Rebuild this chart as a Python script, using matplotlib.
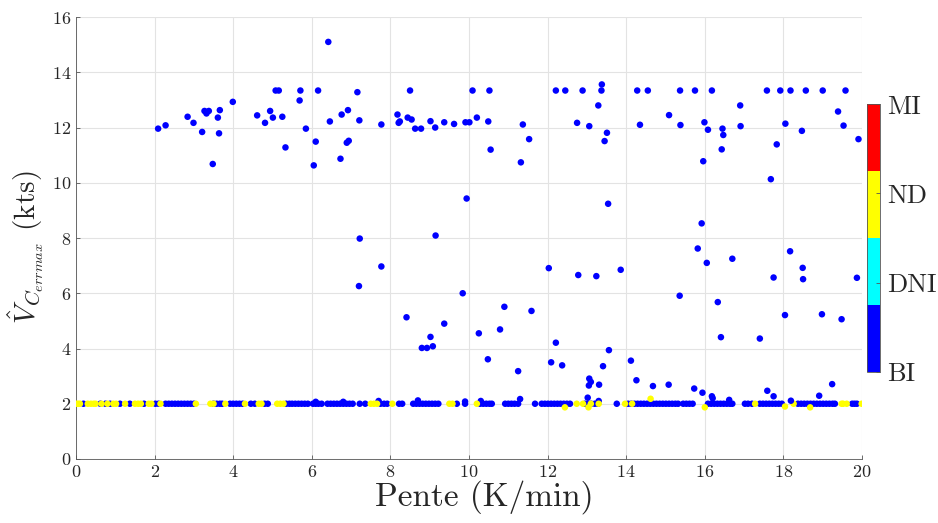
import numpy as np
import matplotlib
matplotlib.use("Agg")
import matplotlib.pyplot as plt
from matplotlib.colors import ListedColormap, Normalize

plt.rcParams['font.family'] = ['cmr10', 'DejaVu Serif']
plt.rcParams['mathtext.fontset'] = 'cm'
plt.rcParams['axes.formatter.use_mathtext'] = True
plt.rcParams['axes.unicode_minus'] = False

# ---- data: class BI (blue), points away from the 2-kt floor ----
bi_x = [2.09, 2.28, 2.84, 2.99, 3.21, 3.27, 3.32, 3.38, 3.48, 3.61, 3.64, 3.66, 3.99, 4.61, 4.81, 4.94,
        5.01, 5.08, 5.16, 5.25, 5.33, 5.69, 5.71, 5.85, 6.05, 6.10, 6.16, 6.42, 6.46, 6.73, 6.76, 6.89,
        6.94, 6.92, 7.16, 7.21, 7.77, 8.18, 8.21, 8.24, 8.44, 8.54, 8.50, 8.63, 8.78, 9.02, 9.14, 9.37,
        9.62, 9.91, 10.01, 10.09, 10.20, 10.49, 10.52, 10.55, 11.32, 11.37, 11.53, 12.21, 12.45, 12.75,
        12.89, 13.06, 13.29, 13.37, 13.38, 13.45, 13.51, 14.28, 14.55, 14.35, 15.09, 15.37, 15.38, 15.75,
        15.96, 15.99, 16.08, 16.18, 16.43, 16.45, 16.47, 16.90, 16.91, 17.58, 17.68, 17.83, 17.92, 18.18,
        18.05, 18.47, 18.57, 19.00, 19.39, 19.53, 19.58, 19.91,
        7.22, 7.20, 7.77, 9.15, 9.94, 9.84, 8.41, 9.37, 9.02, 8.80, 8.93, 9.08, 10.25, 10.48, 10.79, 10.90,
        11.25, 11.59, 12.03, 12.21, 12.09, 12.37, 12.78, 13.24, 13.06, 13.10, 13.05, 13.31, 13.54, 13.86,
        13.56, 13.41, 14.12, 14.26, 14.68, 15.08, 15.36, 15.73, 15.92, 15.82, 16.05, 16.33, 16.41, 16.70,
        17.40, 17.75, 18.17, 18.04, 18.49, 18.50, 18.98, 19.48, 19.24, 19.87, 17.59, 15.94, 16.18, 16.62,
        17.75, 18.19, 18.91, 13.02, 11.30]
bi_y = [11.96, 12.08, 12.39, 12.17, 11.84, 12.60, 12.51, 12.60, 10.68, 12.36, 11.79, 12.63, 12.93, 12.44,
        12.17, 12.60, 12.36, 13.34, 13.34, 12.39, 11.28, 12.98, 13.34, 11.96, 10.63, 11.49, 13.34, 15.10,
        12.22, 10.87, 12.47, 11.45, 11.52, 12.63, 13.28, 12.26, 12.11, 12.47, 12.17, 12.22, 12.36, 12.29,
        13.34, 11.96, 11.96, 12.23, 12.00, 12.19, 12.13, 12.19, 12.19, 13.34, 12.36, 12.22, 13.34, 11.20,
        10.74, 12.11, 11.58, 13.34, 13.34, 12.17, 13.34, 12.05, 12.80, 13.34, 13.56, 11.51, 11.81, 13.34,
        13.34, 12.10, 12.45, 13.34, 12.09, 13.34, 10.78, 12.19, 11.92, 13.34, 11.21, 11.96, 11.73, 12.80,
        12.05, 13.34, 10.13, 11.39, 13.34, 13.34, 12.14, 11.88, 13.34, 13.34, 12.58, 12.07, 13.34, 11.58,
        7.98, 6.26, 6.97, 8.09, 9.43, 6.00, 5.13, 4.90, 4.42, 4.02, 4.02, 4.08, 4.55, 3.61, 4.69, 5.51,
        3.18, 5.36, 6.91, 4.21, 3.50, 3.39, 6.66, 6.62, 2.91, 2.79, 2.66, 2.69, 9.24, 6.85,
        3.94, 3.36, 3.56, 2.85, 2.64, 2.69, 5.91, 2.55, 8.53, 7.62, 7.10, 5.68, 4.41, 7.25,
        4.36, 6.57, 7.52, 5.21, 6.92, 6.51, 5.24, 5.06, 2.71, 6.56, 2.47, 2.40, 2.27, 2.14,
        2.27, 2.11, 2.29, 2.22, 2.17]

# ---- class BI (blue) on the 2-kt floor ----
bi_floor_x = [0.19, 0.62, 0.75, 0.87, 1.12, 1.37, 1.73, 2.02, 2.10, 2.28, 2.36, 2.44, 2.52, 2.60, 2.68,
              2.76, 2.84, 2.92, 3.00, 3.50, 3.58, 3.66, 3.72, 3.92, 4.00, 4.08, 4.16, 4.24, 4.45, 4.55,
              4.80, 4.88, 5.35, 5.43, 5.50, 5.58, 5.66, 5.74, 5.82, 5.90, 6.03, 6.10, 6.17, 6.25, 6.40,
              6.48, 6.56, 6.64, 6.72, 6.80, 6.88, 6.96, 7.04, 7.22, 7.36, 7.75, 7.84, 7.92, 8.22, 8.30,
              8.58, 8.66, 8.74, 8.82, 8.90, 8.98, 9.06, 9.14, 9.22, 9.69, 9.90, 10.28, 10.36, 10.44, 10.52,
              10.58, 10.92, 11.00, 11.08, 11.16, 11.25, 11.68, 11.85, 11.93, 12.01, 12.09, 12.17, 12.25,
              12.33, 12.41, 12.49, 12.57, 12.95, 13.03, 13.11, 13.20, 13.28, 13.76, 14.05, 14.13, 14.21,
              14.29, 14.37, 14.45, 14.53, 14.61, 14.69, 14.77, 14.85, 14.93, 15.01, 15.09, 15.17, 15.25,
              15.32, 15.45, 15.53, 15.61, 15.69, 16.08, 16.16, 16.24, 16.32, 16.40, 16.48, 16.56, 16.64,
              16.70, 17.02, 17.10, 17.20, 17.40, 17.48, 17.56, 17.64, 17.72, 17.80, 17.88, 17.96, 18.37,
              18.45, 18.53, 18.61, 18.69, 18.77, 18.85, 18.93, 19.01, 19.09, 19.17, 19.25, 19.31, 19.75,
              19.81, 19.87,
              6.10, 6.80, 7.70, 8.70, 9.90, 10.30, 13.30, 16.20]
bi_floor_y = [2.0] * 155 + [2.07, 2.07, 2.10, 2.12, 2.08, 2.10, 2.10, 2.20]

# ---- class ND (yellow) ----
nd_x = [0.00, 0.05, 0.10, 0.30, 0.38, 0.45, 0.50, 0.65, 0.80, 0.95, 1.02, 1.25, 1.50, 1.58, 1.65, 1.85,
        1.92, 2.15, 3.05, 3.42, 3.50, 3.80, 4.30, 4.65, 4.72, 5.12, 5.20, 5.28, 7.50, 7.58, 7.66, 8.05,
        9.50, 9.58, 10.20, 12.44, 12.74, 12.90, 13.04, 13.10, 13.30, 13.97, 14.15, 14.62, 16.00, 17.28,
        18.04, 18.26, 18.68, 19.48, 19.52, 19.61, 19.99]
nd_y = [2.0, 2.0, 2.0, 2.0, 2.0, 2.0, 2.0, 2.0, 2.0, 2.0, 2.0, 2.0, 2.0, 2.0, 2.0, 2.0,
        2.0, 2.0, 2.0, 2.0, 2.0, 2.0, 2.0, 2.0, 2.0, 2.0, 2.0, 2.0, 2.0, 2.0, 2.0, 2.0,
        2.0, 2.0, 2.0, 1.87, 2.0, 2.0, 1.87, 2.0, 2.0, 2.0, 2.0, 2.18, 1.87, 2.0,
        1.90, 2.0, 1.87, 2.0, 2.0, 2.0, 2.0]

class_names = ['BI', 'DNI', 'ND', 'MI']
class_colors = ['#0000ff', '#00ffff', '#ffff00', '#ff0000']

fig = plt.figure(figsize=(9.38, 5.23), dpi=100)
ax = fig.add_axes([0.081, 0.1224, 0.838, 0.845])
cmap = ListedColormap(class_colors)
norm = Normalize(vmin=0, vmax=3)

xs = np.concatenate([bi_floor_x, nd_x, bi_x])
ys = np.concatenate([bi_floor_y, nd_y, bi_y])
cs = np.concatenate([np.zeros(len(bi_floor_x)), np.full(len(nd_x), 2.0), np.zeros(len(bi_x))])
sc = ax.scatter(xs, ys, c=cs, cmap=cmap, norm=norm, s=22, linewidths=0, zorder=3)

ax.set_xlim(0, 20)
ax.set_ylim(0, 16)
ax.set_xticks(np.arange(0, 21, 2))
ax.set_yticks(np.arange(0, 17, 2))
ax.grid(True, color='#e3e3e3', linewidth=0.8)
ax.set_axisbelow(True)
for s in ['top', 'right']:
    ax.spines[s].set_visible(False)
for s in ['left', 'bottom']:
    ax.spines[s].set_color('#555555')
    ax.spines[s].set_linewidth(0.6)
ax.tick_params(direction='in', length=3, width=0.6, color='#555555', labelsize=13,
               labelcolor='#262626')
ax.set_xlabel('Pente (K/min)', fontsize=24, color='#262626', labelpad=0)
ax.xaxis.label.set_x(0.52)
ax.set_ylabel(r'$\hat{V}_{C_{errmax}}$ (kts)', fontsize=21, color='#262626', labelpad=4)
ax.yaxis.label.set_y(0.48)

cax = fig.add_axes([0.924, 0.2887, 0.0142, 0.512])
cb = fig.colorbar(sc, cax=cax, ticks=[0, 1, 2, 3])
cb.ax.set_yticklabels(class_names)
cb.ax.tick_params(direction='in', length=3, width=0.6, color='#555555', labelsize=19,
                  labelcolor='#262626', pad=5)
cb.outline.set_edgecolor('#555555')
cb.outline.set_linewidth(0.6)

fig.savefig('out.png', dpi=100)
